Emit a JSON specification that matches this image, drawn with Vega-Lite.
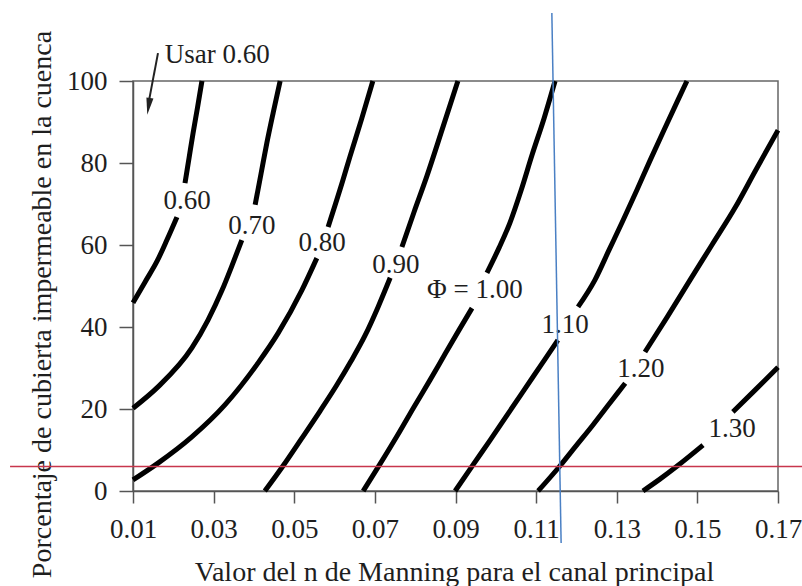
{
  "$schema": "https://vega.github.io/schema/vega-lite/v6.json",
  "width": 645,
  "height": 410,
  "autosize": {"type": "none"},
  "padding": {"left": 133, "top": 81, "right": 24, "bottom": 95},
  "background": "white",
  "config": {
    "view": {"stroke": "#666666", "strokeWidth": 1.5},
    "font": "Liberation Serif",
    "axis": {
      "labelFont": "Liberation Serif",
      "titleFont": "Liberation Serif",
      "labelFontSize": 27,
      "titleFontSize": 28,
      "titleFontWeight": "normal",
      "labelColor": "#1e1e1e",
      "titleColor": "#1e1e1e",
      "grid": false,
      "domainColor": "#555555",
      "domainWidth": 1.5,
      "tickColor": "#555555",
      "tickWidth": 1.5,
      "labelFlush": false,
      "labelOverlap": false,
      "labelBound": false
    }
  },
  "datasets": {
    "curvas": [
      {"phi": "0.60", "tramo": "0.60a", "n": 0.0100, "p": 45.9},
      {"phi": "0.60", "tramo": "0.60a", "n": 0.0130, "p": 51.0},
      {"phi": "0.60", "tramo": "0.60a", "n": 0.0160, "p": 56.1},
      {"phi": "0.60", "tramo": "0.60a", "n": 0.0184, "p": 61.2},
      {"phi": "0.60", "tramo": "0.60a", "n": 0.0209, "p": 66.8},
      {"phi": "0.60", "tramo": "0.60b", "n": 0.0229, "p": 75.1},
      {"phi": "0.60", "tramo": "0.60b", "n": 0.0239, "p": 81.2},
      {"phi": "0.60", "tramo": "0.60b", "n": 0.0249, "p": 87.3},
      {"phi": "0.60", "tramo": "0.60b", "n": 0.0260, "p": 93.5},
      {"phi": "0.60", "tramo": "0.60b", "n": 0.0271, "p": 100},

      {"phi": "0.70", "tramo": "0.70a", "n": 0.0100, "p": 20.2},
      {"phi": "0.70", "tramo": "0.70a", "n": 0.0162, "p": 25.4},
      {"phi": "0.70", "tramo": "0.70a", "n": 0.0246, "p": 34.9},
      {"phi": "0.70", "tramo": "0.70a", "n": 0.0286, "p": 41.7},
      {"phi": "0.70", "tramo": "0.70a", "n": 0.0321, "p": 49.0},
      {"phi": "0.70", "tramo": "0.70a", "n": 0.0346, "p": 55.1},
      {"phi": "0.70", "tramo": "0.70a", "n": 0.0370, "p": 61.2},
      {"phi": "0.70", "tramo": "0.70b", "n": 0.0403, "p": 69.8},
      {"phi": "0.70", "tramo": "0.70b", "n": 0.0418, "p": 77.6},
      {"phi": "0.70", "tramo": "0.70b", "n": 0.0432, "p": 84.9},
      {"phi": "0.70", "tramo": "0.70b", "n": 0.0448, "p": 92.4},
      {"phi": "0.70", "tramo": "0.70b", "n": 0.0465, "p": 100},

      {"phi": "0.80", "tramo": "0.80a", "n": 0.0100, "p": 2.7},
      {"phi": "0.80", "tramo": "0.80a", "n": 0.0162, "p": 6.8},
      {"phi": "0.80", "tramo": "0.80a", "n": 0.0246, "p": 13.2},
      {"phi": "0.80", "tramo": "0.80a", "n": 0.0328, "p": 21.0},
      {"phi": "0.80", "tramo": "0.80a", "n": 0.0410, "p": 31.2},
      {"phi": "0.80", "tramo": "0.80a", "n": 0.0460, "p": 38.5},
      {"phi": "0.80", "tramo": "0.80a", "n": 0.0519, "p": 49.0},
      {"phi": "0.80", "tramo": "0.80a", "n": 0.0556, "p": 56.8},
      {"phi": "0.80", "tramo": "0.80b", "n": 0.0584, "p": 64.4},
      {"phi": "0.80", "tramo": "0.80b", "n": 0.0621, "p": 75.9},
      {"phi": "0.80", "tramo": "0.80b", "n": 0.0638, "p": 81.5},
      {"phi": "0.80", "tramo": "0.80b", "n": 0.0667, "p": 90.7},
      {"phi": "0.80", "tramo": "0.80b", "n": 0.0695, "p": 100},

      {"phi": "0.90", "tramo": "0.90a", "n": 0.0427, "p": 0},
      {"phi": "0.90", "tramo": "0.90a", "n": 0.0472, "p": 6.1},
      {"phi": "0.90", "tramo": "0.90a", "n": 0.0519, "p": 12.9},
      {"phi": "0.90", "tramo": "0.90a", "n": 0.0564, "p": 19.5},
      {"phi": "0.90", "tramo": "0.90a", "n": 0.0604, "p": 25.6},
      {"phi": "0.90", "tramo": "0.90a", "n": 0.0641, "p": 31.7},
      {"phi": "0.90", "tramo": "0.90a", "n": 0.0676, "p": 38.0},
      {"phi": "0.90", "tramo": "0.90a", "n": 0.0708, "p": 44.9},
      {"phi": "0.90", "tramo": "0.90a", "n": 0.0738, "p": 52.0},
      {"phi": "0.90", "tramo": "0.90b", "n": 0.0767, "p": 59.5},
      {"phi": "0.90", "tramo": "0.90b", "n": 0.0797, "p": 68.0},
      {"phi": "0.90", "tramo": "0.90b", "n": 0.0829, "p": 76.8},
      {"phi": "0.90", "tramo": "0.90b", "n": 0.0868, "p": 88.5},
      {"phi": "0.90", "tramo": "0.90b", "n": 0.0906, "p": 100},

      {"phi": "1.00", "tramo": "1.00a", "n": 0.0671, "p": 0},
      {"phi": "1.00", "tramo": "1.00a", "n": 0.0713, "p": 6.6},
      {"phi": "1.00", "tramo": "1.00a", "n": 0.0755, "p": 13.4},
      {"phi": "1.00", "tramo": "1.00a", "n": 0.0797, "p": 20.5},
      {"phi": "1.00", "tramo": "1.00a", "n": 0.0837, "p": 27.1},
      {"phi": "1.00", "tramo": "1.00a", "n": 0.0874, "p": 33.4},
      {"phi": "1.00", "tramo": "1.00a", "n": 0.0909, "p": 39.3},
      {"phi": "1.00", "tramo": "1.00a", "n": 0.0941, "p": 44.6},
      {"phi": "1.00", "tramo": "1.00b", "n": 0.0978, "p": 53.2},
      {"phi": "1.00", "tramo": "1.00b", "n": 0.1008, "p": 59.3},
      {"phi": "1.00", "tramo": "1.00b", "n": 0.1035, "p": 65.4},
      {"phi": "1.00", "tramo": "1.00b", "n": 0.1063, "p": 73.4},
      {"phi": "1.00", "tramo": "1.00b", "n": 0.1090, "p": 82.0},
      {"phi": "1.00", "tramo": "1.00b", "n": 0.1120, "p": 91.0},
      {"phi": "1.00", "tramo": "1.00b", "n": 0.1147, "p": 100},

      {"phi": "1.10", "tramo": "1.10a", "n": 0.0899, "p": 0},
      {"phi": "1.10", "tramo": "1.10a", "n": 0.0943, "p": 6.3},
      {"phi": "1.10", "tramo": "1.10a", "n": 0.0986, "p": 12.4},
      {"phi": "1.10", "tramo": "1.10a", "n": 0.1028, "p": 18.5},
      {"phi": "1.10", "tramo": "1.10a", "n": 0.1070, "p": 24.6},
      {"phi": "1.10", "tramo": "1.10a", "n": 0.1112, "p": 30.7},
      {"phi": "1.10", "tramo": "1.10a", "n": 0.1154, "p": 36.8},
      {"phi": "1.10", "tramo": "1.10b", "n": 0.1204, "p": 44.9},
      {"phi": "1.10", "tramo": "1.10b", "n": 0.1246, "p": 51.5},
      {"phi": "1.10", "tramo": "1.10b", "n": 0.1281, "p": 58.8},
      {"phi": "1.10", "tramo": "1.10b", "n": 0.1316, "p": 66.1},
      {"phi": "1.10", "tramo": "1.10b", "n": 0.1350, "p": 73.4},
      {"phi": "1.10", "tramo": "1.10b", "n": 0.1383, "p": 80.7},
      {"phi": "1.10", "tramo": "1.10b", "n": 0.1417, "p": 88.0},
      {"phi": "1.10", "tramo": "1.10b", "n": 0.1452, "p": 95.4},
      {"phi": "1.10", "tramo": "1.10b", "n": 0.1474, "p": 100},

      {"phi": "1.20", "tramo": "1.20a", "n": 0.1105, "p": 0},
      {"phi": "1.20", "tramo": "1.20a", "n": 0.1159, "p": 6.1},
      {"phi": "1.20", "tramo": "1.20a", "n": 0.1199, "p": 11.0},
      {"phi": "1.20", "tramo": "1.20a", "n": 0.1241, "p": 16.1},
      {"phi": "1.20", "tramo": "1.20a", "n": 0.1281, "p": 21.2},
      {"phi": "1.20", "tramo": "1.20a", "n": 0.1321, "p": 26.3},
      {"phi": "1.20", "tramo": "1.20b", "n": 0.1370, "p": 33.9},
      {"phi": "1.20", "tramo": "1.20b", "n": 0.1425, "p": 42.4},
      {"phi": "1.20", "tramo": "1.20b", "n": 0.1482, "p": 51.5},
      {"phi": "1.20", "tramo": "1.20b", "n": 0.1536, "p": 60.0},
      {"phi": "1.20", "tramo": "1.20b", "n": 0.1593, "p": 69.0},
      {"phi": "1.20", "tramo": "1.20b", "n": 0.1645, "p": 78.3},
      {"phi": "1.20", "tramo": "1.20b", "n": 0.1700, "p": 88.0},

      {"phi": "1.30", "tramo": "1.30a", "n": 0.1365, "p": 0},
      {"phi": "1.30", "tramo": "1.30a", "n": 0.1407, "p": 2.9},
      {"phi": "1.30", "tramo": "1.30a", "n": 0.1450, "p": 6.1},
      {"phi": "1.30", "tramo": "1.30a", "n": 0.1514, "p": 11.2},
      {"phi": "1.30", "tramo": "1.30b", "n": 0.1588, "p": 19.3},
      {"phi": "1.30", "tramo": "1.30b", "n": 0.1643, "p": 24.6},
      {"phi": "1.30", "tramo": "1.30b", "n": 0.1700, "p": 30.2}
    ],
    "etiquetas": [
      {"texto": "0.60", "n": 0.0234, "p": 70.7},
      {"texto": "0.70", "n": 0.0395, "p": 64.6},
      {"texto": "0.80", "n": 0.0569, "p": 60.5},
      {"texto": "0.90", "n": 0.0752, "p": 55.1},
      {"texto": "Φ = 1.00", "n": 0.0948, "p": 49.0},
      {"texto": "1.10", "n": 0.1172, "p": 40.5},
      {"texto": "1.20", "n": 0.1360, "p": 29.8},
      {"texto": "1.30", "n": 0.1586, "p": 15.1}
    ],
    "nota": [
      {"texto": "Usar 0.60", "n": 0.0179, "p": 104.4}
    ],
    "flecha": [
      {"n": 0.0162, "p": 106.8},
      {"n": 0.0140, "p": 95.4}
    ],
    "punta": [
      {"n": 0.01387, "p": 93.8}
    ],
    "guia_vertical": [
      {"n": 0.1139, "p": 116.6},
      {"n": 0.1162, "p": -12.7}
    ],
    "guia_horizontal": [
      {"n": -0.0205, "p": 6.0},
      {"n": 0.1765, "p": 6.0}
    ]
  },
  "layer": [
    {
      "data": {"name": "curvas"},
      "mark": {"type": "line", "color": "#000000", "strokeWidth": 5, "strokeCap": "butt", "interpolate": "monotone"},
      "encoding": {
        "x": {
          "field": "n",
          "type": "quantitative",
          "scale": {"domain": [0.01, 0.17], "nice": false, "zero": false},
          "axis": {
            "values": [0.01, 0.03, 0.05, 0.07, 0.09, 0.11, 0.13, 0.15, 0.17],
            "format": ".2f",
            "tickSize": 12,
            "labelPadding": 13,
            "title": "Valor del n de Manning para el canal principal",
            "titleX": 321,
            "titleY": 89,
            "titleAlign": "center",
            "titleBaseline": "alphabetic"
          }
        },
        "y": {
          "field": "p",
          "type": "quantitative",
          "scale": {"domain": [0, 100], "nice": false, "zero": false},
          "axis": {
            "values": [0, 20, 40, 60, 80, 100],
            "tickSize": 14,
            "labelPadding": 12,
            "title": "Porcentaje de cubierta impermeable en la cuenca",
            "titleX": -83,
            "titleY": 223,
            "titleAngle": -90,
            "titleAlign": "center",
            "titleBaseline": "alphabetic"
          }
        },
        "detail": {"field": "tramo"}
      }
    },
    {
      "data": {"name": "etiquetas"},
      "mark": {"type": "text", "font": "Liberation Serif", "fontSize": 27, "color": "#1e1e1e", "align": "center", "baseline": "middle"},
      "encoding": {
        "x": {"field": "n", "type": "quantitative"},
        "y": {"field": "p", "type": "quantitative"},
        "text": {"field": "texto"}
      }
    },
    {
      "data": {"name": "nota"},
      "mark": {"type": "text", "font": "Liberation Serif", "fontSize": 27, "color": "#1e1e1e", "align": "left", "baseline": "alphabetic", "clip": false},
      "encoding": {
        "x": {"field": "n", "type": "quantitative"},
        "y": {"field": "p", "type": "quantitative"},
        "text": {"field": "texto"}
      }
    },
    {
      "data": {"name": "flecha"},
      "mark": {"type": "line", "color": "#222222", "strokeWidth": 2, "clip": false},
      "encoding": {
        "x": {"field": "n", "type": "quantitative"},
        "y": {"field": "p", "type": "quantitative"}
      }
    },
    {
      "data": {"name": "punta"},
      "mark": {"type": "point", "shape": "M-0.42,-1L0.42,-1L0,1Z", "filled": true, "color": "#222222", "size": 289, "angle": 9, "opacity": 1, "clip": false},
      "encoding": {
        "x": {"field": "n", "type": "quantitative"},
        "y": {"field": "p", "type": "quantitative"}
      }
    },
    {
      "data": {"name": "guia_vertical"},
      "mark": {"type": "line", "color": "#4a80c4", "strokeWidth": 1.5, "clip": false},
      "encoding": {
        "x": {"field": "n", "type": "quantitative"},
        "y": {"field": "p", "type": "quantitative"},
        "order": {"field": "p", "sort": "descending"}
      }
    },
    {
      "data": {"name": "guia_horizontal"},
      "mark": {"type": "line", "color": "#c8364c", "strokeWidth": 1.5, "clip": false},
      "encoding": {
        "x": {"field": "n", "type": "quantitative"},
        "y": {"field": "p", "type": "quantitative"}
      }
    }
  ]
}
